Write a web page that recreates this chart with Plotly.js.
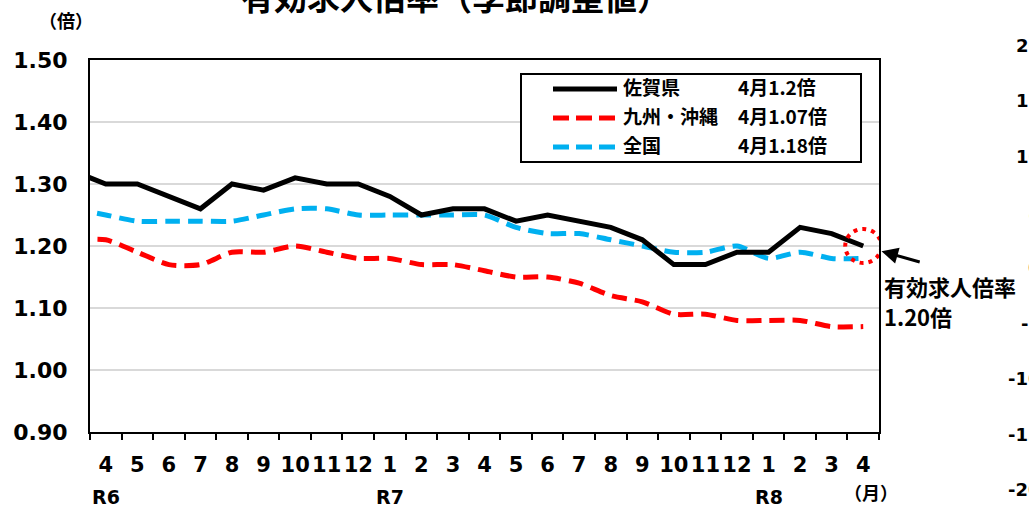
<!DOCTYPE html>
<html>
<head>
<meta charset="utf-8">
<script src="https://cdn.plot.ly/plotly-3.0.1.min.js"></script>
<style>
html,body{margin:0;padding:0;background:#fff;}
#chart{width:1029px;height:510px;}
</style>
</head>
<body>
<div id="chart"></div>
<script>
// ---- data ----
const monthLabels = ['4','5','6','7','8','9','10','11','12','1','2','3','4','5','6','7','8','9','10','11','12','1','2','3','4'];
const eraLabels = ['R6','R7','R8'];
const eraIndex = [0, 9, 21];
// previous month (R6 3) values, partly visible at the left edge
const prevSaga = 1.32;
const prevKyushu = 1.21;
const prevNational = 1.26;
const saga = [1.30,1.30,1.28,1.26,1.30,1.29,1.31,1.30,1.30,1.28,1.25,1.26,1.26,1.24,1.25,1.24,1.23,1.21,1.17,1.17,1.19,1.19,1.23,1.22,1.20];
const kyushu = [1.21,1.19,1.17,1.17,1.19,1.19,1.20,1.19,1.18,1.18,1.17,1.17,1.16,1.15,1.15,1.14,1.12,1.11,1.09,1.09,1.08,1.08,1.08,1.07,1.07];
const national = [1.25,1.24,1.24,1.24,1.24,1.25,1.26,1.26,1.25,1.25,1.25,1.25,1.25,1.23,1.22,1.22,1.21,1.20,1.19,1.19,1.20,1.18,1.19,1.18,1.18];
const seriesNames = ['佐賀県','九州・沖縄','全国'];
const latestLabels = ['4月1.2倍','4月1.07倍','4月1.18倍'];
const rightAxisLabels = ['20','15','10','5','0','-5','-10','-15','-20'];

// ---- geometry helpers (layout only) ----
const W = 1029, H = 510;
const L = 90, R = 879, T = 60, B = 432;
const px = v => (v - L) / (R - L);
const py = v => (B - v) / (B - T);

const FONT = 'DejaVu Sans, Noto Sans CJK JP, sans-serif';
const CJK = 'Noto Sans CJK JP, DejaVu Sans, sans-serif';

const xs = [-1].concat(monthLabels.map((_, i) => i));
const dashStyle = '15px,8px';

const traces = [
  {x: xs, y: [prevNational].concat(national), name: seriesNames[2], type: 'scatter', mode: 'lines',
   line: {color: '#00B0F0', width: 5, dash: dashStyle, shape: 'spline', smoothing: 0.7}},
  {x: xs, y: [prevKyushu].concat(kyushu), name: seriesNames[1], type: 'scatter', mode: 'lines',
   line: {color: '#FF0000', width: 5, dash: dashStyle, shape: 'spline', smoothing: 0.7}},
  {x: xs, y: [prevSaga].concat(saga), name: seriesNames[0], type: 'scatter', mode: 'lines',
   line: {color: '#000000', width: 5}}
];

const shapes = [
  // 1.00 reference line
  {type: 'line', xref: 'paper', yref: 'y', x0: 0, x1: 1, y0: 1.0, y1: 1.0, layer: 'below',
   line: {color: '#ffffff', width: 3}},
  {type: 'line', xref: 'paper', yref: 'y', x0: 0, x1: 1, y0: 1.0, y1: 1.0, layer: 'below',
   line: {color: '#FF0000', width: 2, dash: 'dot'}},
  // dotted circle around the latest Saga value
  {type: 'circle', xref: 'x', yref: 'y', xsizemode: 'pixel', ysizemode: 'pixel',
   xanchor: saga.length - 1, yanchor: saga[saga.length - 1], x0: -18, x1: 18, y0: -17, y1: 17,
   line: {color: '#FF0000', width: 4, dash: '4px,5px'}},
  // legend box
  {type: 'rect', xref: 'paper', yref: 'paper', x0: px(521), x1: px(861), y0: py(74), y1: py(162),
   fillcolor: '#ffffff', line: {color: '#000000', width: 2}}
];
const legendStyles = [
  {color: '#000000', width: 5, dash: 'solid'},
  {color: '#FF0000', width: 5, dash: '16px,7px'},
  {color: '#00B0F0', width: 5, dash: '16px,7px'}
];
const legendRowY = [89, 118, 147];
legendStyles.forEach((st, i) => {
  shapes.push({type: 'line', xref: 'paper', yref: 'paper', x0: px(553), x1: px(617),
    y0: py(legendRowY[i]), y1: py(legendRowY[i]), line: st});
});

const annotations = [];
// title (cut off at the top)
annotations.push({xref: 'paper', yref: 'paper', x: px(455), y: py(-4), xanchor: 'center', yanchor: 'middle',
  text: '有効求人倍率（季節調整値）', showarrow: false, font: {family: CJK, size: 33, color: '#000', weight: 'bold'}});
// y unit
annotations.push({xref: 'paper', yref: 'paper', x: px(66), y: py(20), xanchor: 'center', yanchor: 'middle',
  text: '（倍）', showarrow: false, font: {family: CJK, size: 18, color: '#000', weight: 'bold'}});
// x unit
annotations.push({xref: 'paper', yref: 'paper', x: px(871), y: py(492), xanchor: 'center', yanchor: 'middle',
  text: '（月）', showarrow: false, font: {family: CJK, size: 18, color: '#000', weight: 'bold'}});
// era labels
eraLabels.forEach((t, i) => {
  annotations.push({xref: 'x', yref: 'paper', x: eraIndex[i], y: py(497), xanchor: 'center', yanchor: 'middle',
    text: t, showarrow: false, font: {family: FONT, size: 19, color: '#000', weight: 'bold'}});
});
// legend texts
seriesNames.forEach((t, i) => {
  annotations.push({xref: 'paper', yref: 'paper', x: px(621), y: py(legendRowY[i] - 3), xanchor: 'left', yanchor: 'middle',
    text: t, showarrow: false, font: {family: CJK, size: 19, color: '#000', weight: 'bold'}});
  annotations.push({xref: 'paper', yref: 'paper', x: px(736), y: py(legendRowY[i] - 3), xanchor: 'left', yanchor: 'middle',
    text: latestLabels[i], showarrow: false, font: {family: CJK, size: 19, color: '#000', weight: 'bold'}});
});
// arrow to the latest value
annotations.push({xref: 'x', yref: 'y', x: saga.length - 1, y: saga[saga.length - 1], text: ' ',
  showarrow: true, arrowhead: 2, arrowsize: 1.1, arrowwidth: 3, arrowcolor: '#000', ax: 60, ay: 17, standoff: 19});
annotations.push({xref: 'paper', yref: 'paper', x: px(883), y: py(286), xanchor: 'left', yanchor: 'middle',
  text: '有効求人倍率', showarrow: false, borderpad: 0,
  font: {family: CJK, size: 22, color: '#000', weight: 'bold'}});
annotations.push({xref: 'paper', yref: 'paper', x: px(883), y: py(316), xanchor: 'left', yanchor: 'middle',
  text: saga[saga.length - 1].toFixed(2) + '倍', showarrow: false, borderpad: 0,
  font: {family: CJK, size: 22, color: '#000', weight: 'bold'}});
// neighbouring chart's axis labels, cut at the right edge
rightAxisLabels.forEach((t, i) => {
  annotations.push({xref: 'paper', yref: 'paper', x: px(1043), y: py(45 + 55.6 * i), xanchor: 'right', yanchor: 'middle',
    text: t, showarrow: false, font: {family: FONT, size: 18, color: '#000', weight: 'bold'}});
});

const layout = {
  width: W, height: H,
  margin: {l: L, r: W - R, t: T, b: H - B, pad: 0},
  paper_bgcolor: '#ffffff', plot_bgcolor: '#ffffff',
  showlegend: false,
  font: {family: FONT, color: '#000'},
  xaxis: {
    range: [-0.5, monthLabels.length - 0.5],
    tickmode: 'array', tickvals: monthLabels.map((_, i) => i), ticktext: monthLabels,
    ticks: '', showgrid: false, zeroline: false,
    showline: true, linecolor: '#000', linewidth: 2, mirror: true,
    tickfont: {family: FONT, size: 21, color: '#000', weight: 'bold'},
    ticklabelstandoff: 13,
    minor: {tick0: -0.5, dtick: 1, ticks: 'outside', ticklen: 6, tickwidth: 2, tickcolor: '#000', showgrid: false}
  },
  yaxis: {
    range: [0.9, 1.5], dtick: 0.1, tick0: 0.9, tickformat: '.2f',
    ticks: '', showgrid: true, gridcolor: '#d9d9d9', gridwidth: 2, zeroline: false,
    showline: true, linecolor: '#000', linewidth: 2, mirror: true,
    tickfont: {family: FONT, size: 22, color: '#000', weight: 'bold'},
    ticklabelstandoff: 16
  },
  shapes: shapes,
  annotations: annotations
};

Plotly.newPlot('chart', traces, layout, {staticPlot: true, displayModeBar: false});
</script>
</body>
</html>
